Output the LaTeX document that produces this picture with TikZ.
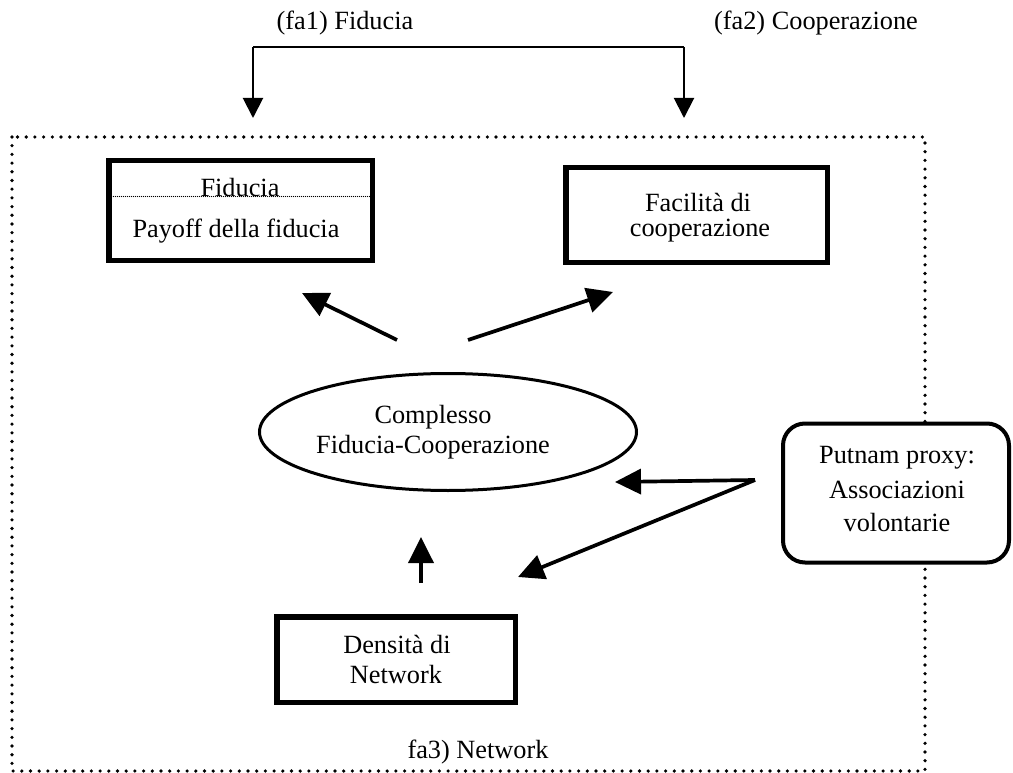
\documentclass[tikz,border=0pt]{standalone}
\usepackage{fontspec}
\setmainfont{Liberation Serif}
\usetikzlibrary{arrows.meta,shapes.geometric}
\begin{document}
\begin{tikzpicture}[x=1pt,y=-1pt,
  txt/.style={anchor=base,inner sep=0pt,font=\fontsize{26.3}{30}\selectfont},
  thickbox/.style={draw,line width=5.5pt,inner sep=0pt},
  bigarrow/.style={line width=3.7pt,-{Triangle[length=26pt,width=25pt]}},
  smallarrow/.style={line width=2pt,-{Triangle[length=20pt,width=20pt]}},
  bigdots/.style={line width=3.6pt,line cap=round,dash pattern=on 0pt off 8.7pt},
  finedots/.style={line width=1.1pt,line cap=round,dash pattern=on 0pt off 2pt}]
\useasboundingbox (0,0) rectangle (1013,773);
% outer dotted frame
\draw[bigdots] (12,137) rectangle (925,771);
% top labels
\node[txt] (fa1) at (345,30) {(fa1) Fiducia};
\node[txt] (fa2) at (816,30) {(fa2) Cooperazione};
% bracket
\coordinate (bl) at (253,47);
\coordinate (br) at (684,47);
\coordinate (tl) at (253,118);
\coordinate (tr) at (684,118);
\draw[line width=2pt] (bl) -- (br);
\draw[smallarrow] (bl) -- (tl);
\draw[smallarrow] (br) -- (tr);
% Fiducia box
\node[thickbox,minimum width=263.5pt,minimum height=99.5pt] (fidbox) at (240.5,210.5) {};
\draw[finedots] (109.5,196.5) -- (371.5,196.5);
\node[txt] (fidt1) at (240,196.5) {Fiducia};
\node[txt] (fidt2) at (236,237) {Payoff della fiducia};
% Facilita box
\node[thickbox,minimum width=261.5pt,minimum height=94.5pt] (facbox) at (696.5,215) {};
\node[txt] (fact1) at (698,211.5) {Facilità di};
\node[txt] (fact2) at (700,236.5) {cooperazione};
% ellipse
\node[draw,ellipse,line width=3pt,minimum width=377pt,minimum height=117pt,inner sep=0pt] (ell) at (448,432) {};
\node[txt] (ellt1) at (433,423) {Complesso};
\node[txt] (ellt2) at (433,453) {Fiducia-Cooperazione};
% Densita box
\node[thickbox,minimum width=238.5pt,minimum height=85.5pt] (denbox) at (396,659.5) {};
\node[txt] (dent1) at (397,653) {Densità di};
\node[txt] (dent2) at (396,683) {Network};
% Putnam box
\node[draw,fill=white,line width=4pt,rounded corners=22pt,minimum width=226pt,minimum height=139pt,inner sep=0pt] (putbox) at (896,493) {};
\node[txt] (putt1) at (897,463) {Putnam proxy:};
\node[txt] (putt2) at (897,498) {Associazioni};
\node[txt] (putt3) at (897,531) {volontarie};
% bottom label
\node[txt] (fa3) at (478,758) {fa3) Network};
% arrows
\coordinate (a1s) at (397,340);
\coordinate (a1e) at (302,293);
\coordinate (a2s) at (468,340);
\coordinate (a2e) at (613,292);
\coordinate (ups) at (421,583);
\coordinate (upe) at (421,537);
\coordinate (apex) at (755,480);
\coordinate (v1e) at (615,482);
\coordinate (v2e) at (518,577);
\draw[bigarrow] (a1s) -- (a1e);
\draw[bigarrow] (a2s) -- (a2e);
\draw[bigarrow] (ups) -- (upe);
\draw[bigarrow] (apex) -- (v1e);
\draw[bigarrow] (apex) -- (v2e);
\end{tikzpicture}
\end{document}
